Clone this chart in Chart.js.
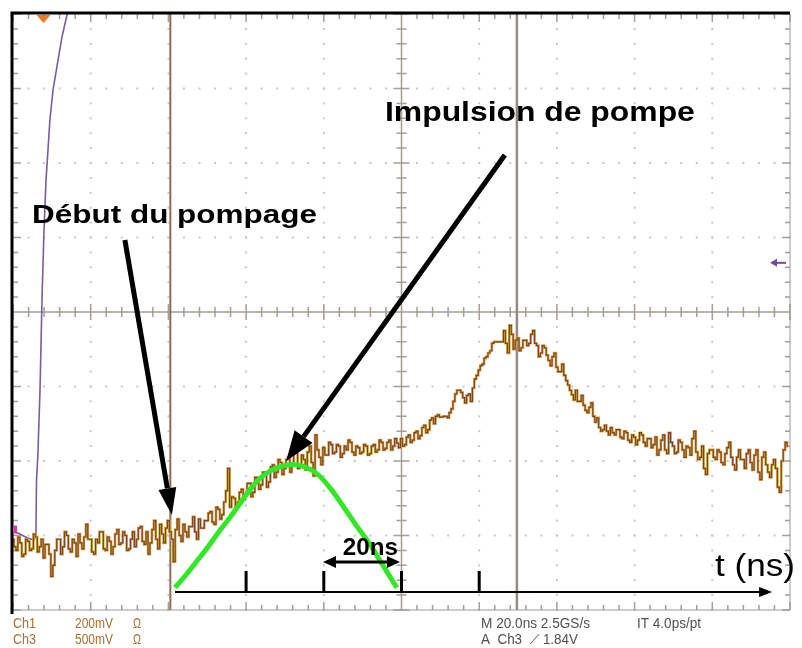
<!DOCTYPE html>
<html lang="fr">
<head>
<meta charset="utf-8">
<title>Impulsion de pompe</title>
<script src="https://cdn.jsdelivr.net/npm/chart.js@4.4.1/dist/chart.umd.min.js"></script>
<style>
  html, body { margin: 0; padding: 0; background: #fff; }
  #scope { display: block; }
</style>
</head>
<body>
<canvas id="scope" width="802" height="648"></canvas>
<script>
// Ch1 (200 mV/div) : one sample every 0.5 ns, level in vertical divisions
const SAMPLE_NS = 0.5;
const ch1Levels = [
    -3.05, -3.15, -3.20, -3.02, -3.10, -3.28, -3.25, -3.05, -3.08, -3.20, -3.18, -2.98, -3.02, -3.22, -3.15, -3.05, -3.30, -3.12, -3.12, -3.25,
    -3.55, -3.40, -3.20, -3.05, -3.05, -3.25, -3.15, -2.95, -3.00, -3.18, -3.22, -3.05, -3.10, -3.28, -2.98, -3.10, -3.18, -3.02, -2.85, -3.05,
    -3.05, -3.22, -3.25, -3.05, -3.10, -2.95, -2.95, -3.18, -3.20, -3.02, -3.08, -3.25, -3.15, -2.98, -2.92, -3.12, -3.10, -2.95, -3.00, -3.20,
    -3.18, -3.05, -2.95, -3.15, -3.05, -2.90, -2.88, -3.08, -3.12, -2.95, -3.25, -3.10, -2.92, -2.80, -3.05, -3.18, -2.85, -2.98, -3.10, -2.90,
    -2.80, -2.95, -3.05, -3.35, -2.92, -2.78, -3.00, -3.08, -2.85, -2.95, -3.02, -2.88, -2.88, -2.75, -2.95, -3.05, -2.78, -2.90, -2.90, -2.80,
    -2.80, -2.70, -2.68, -2.82, -2.85, -2.62, -2.65, -2.78, -2.72, -2.55, -2.40, -2.10, -2.62, -2.48, -2.50, -2.62, -2.55, -2.42, -2.38, -2.52,
    -2.45, -2.30, -2.30, -2.48, -2.42, -2.22, -2.25, -2.38, -2.32, -2.15, -2.18, -2.35, -2.28, -2.08, -2.05, -2.22, -2.15, -1.98, -2.02, -2.18,
    -2.10, -1.98, -1.95, -2.15, -2.05, -1.88, -1.90, -2.10, -2.08, -1.92, -1.98, -2.12, -1.88, -1.80, -2.02, -2.20, -1.65, -1.85, -1.95, -2.05,
    -1.82, -1.92, -1.92, -1.75, -1.78, -1.90, -1.88, -1.78, -1.80, -1.95, -1.90, -1.80, -1.85, -1.72, -1.75, -1.88, -1.92, -1.80, -1.82, -1.90,
    -1.88, -1.78, -1.80, -1.92, -1.90, -1.80, -1.78, -1.88, -1.85, -1.72, -1.75, -1.85, -1.83, -1.75, -1.72, -1.85, -1.80, -1.70, -1.76, -1.82,
    -1.70, -1.80, -1.78, -1.68, -1.65, -1.75, -1.72, -1.62, -1.60, -1.70, -1.66, -1.55, -1.52, -1.62, -1.58, -1.45, -1.42, -1.50, -1.40, -1.38,
    -1.41, -1.41, -1.40, -1.40, -1.42, -1.35, -1.30, -1.20, -1.10, -1.05, -1.05, -1.08, -1.15, -1.22, -1.12, -1.10, -1.20, -1.02, -0.90, -0.85,
    -0.78, -0.72, -0.70, -0.62, -0.60, -0.55, -0.52, -0.42, -0.40, -0.40, -0.40, -0.40, -0.40, -0.25, -0.42, -0.55, -0.18, -0.30, -0.50, -0.38,
    -0.35, -0.52, -0.48, -0.38, -0.38, -0.45, -0.42, -0.30, -0.25, -0.42, -0.45, -0.60, -0.55, -0.45, -0.48, -0.58, -0.65, -0.72, -0.60, -0.55,
    -0.74, -0.80, -0.80, -0.70, -0.85, -0.92, -0.98, -1.05, -1.11, -1.18, -1.05, -1.20, -1.20, -1.12, -1.25, -1.32, -1.35, -1.28, -1.22, -1.40,
    -1.48, -1.42, -1.55, -1.60, -1.58, -1.52, -1.60, -1.65, -1.55, -1.62, -1.65, -1.58, -1.58, -1.68, -1.70, -1.60, -1.62, -1.72, -1.75, -1.65,
    -1.68, -1.78, -1.72, -1.62, -1.65, -1.75, -1.80, -1.70, -1.70, -1.82, -1.78, -1.68, -1.92, -1.85, -1.72, -1.65, -1.85, -1.90, -1.62, -1.75,
    -1.80, -1.90, -1.88, -1.72, -1.75, -1.85, -1.95, -1.80, -1.82, -1.92, -1.70, -1.60, -1.88, -1.98, -1.95, -1.80, -2.10, -2.18, -1.90, -1.85,
    -1.85, -1.95, -1.98, -1.85, -1.88, -2.02, -2.05, -1.90, -1.82, -1.75, -1.95, -2.05, -2.12, -1.95, -1.85, -1.98, -1.98, -2.10, -1.90, -1.85,
    -2.02, -2.12, -1.92, -1.85, -2.15, -2.25, -1.95, -1.88, -2.05, -2.15, -2.22, -2.05, -1.98, -2.10, -2.35, -2.42, -2.00, -1.85, -1.75, -1.80
];

// Ch3 (500 mV/div) : trigger edge
const ch3Times  = [0, 1.8, 3.6, 5.4, 5.9, 6.05, 6.4, 6.95, 7.46, 7.98, 8.5, 9.0, 9.5, 10.3, 11.3, 12.6, 13.9, 14.4];
const ch3Levels = [-2.94, -2.98, -3.03, -3.06, -3.01, -2.26, -1.92, -1.05, 0.16, 1.10, 1.77, 2.17, 2.58, 2.98, 3.29, 3.69, 3.99, 4.08];

// Pump pulse drawn under the trace
const pulseTimes  = [41.7, 44.5, 47.4, 50.2, 53.0, 55.8, 58.7, 61.5, 64.3, 67.4, 71.3, 74.6, 78.2, 81.6, 84.9, 88.3, 91.9, 94.5, 97.0, 98.8];
const pulseLevels = [-3.70, -3.53, -3.34, -3.15, -2.95, -2.76, -2.55, -2.35, -2.20, -2.10, -2.05, -2.07, -2.17, -2.36, -2.60, -2.86, -3.12, -3.34, -3.55, -3.70];

// Time arrow ticks (ns)
const timeTicks = [60, 80, 100, 120];

// Cursors (ns)
const cursorTimes = [40.5, 129.7];

const toPoints = (xs, ys) => xs.map((x, i) => ({ x: x, y: ys[i] }));
const ch1Points = ch1Levels.map((y, i) => ({ x: i * SAMPLE_NS, y: y }));

function drawFitted(ctx, text, x, y, width, font, color) {
    ctx.save();
    ctx.font = font;
    const w = ctx.measureText(text).width;
    ctx.translate(x, y);
    ctx.scale(width / w, 1);
    ctx.fillStyle = color;
    ctx.textBaseline = 'alphabetic';
    ctx.fillText(text, 0, 0);
    ctx.restore();
}

function arrowHead(ctx, x0, y0, x1, y1, len, half) {
    const ang = Math.atan2(y1 - y0, x1 - x0);
    const bx = x1 - len * Math.cos(ang), by = y1 - len * Math.sin(ang);
    ctx.beginPath();
    ctx.moveTo(x1, y1);
    ctx.lineTo(bx + half * Math.sin(ang), by - half * Math.cos(ang));
    ctx.lineTo(bx - half * Math.sin(ang), by + half * Math.cos(ang));
    ctx.closePath();
    ctx.fill();
    return [bx, by];
}

function drawArrow(ctx, x0, y0, x1, y1, width, len, half) {
    ctx.save();
    ctx.strokeStyle = '#000';
    ctx.fillStyle = '#000';
    ctx.lineWidth = width;
    const [bx, by] = arrowHead(ctx, x0, y0, x1, y1, len, half);
    ctx.beginPath();
    ctx.moveTo(x0, y0);
    ctx.lineTo(bx, by);
    ctx.stroke();
    ctx.restore();
}

// Scope graticule: dotted divisions, centre cross, edge ticks, cursors
const graticule = {
    id: 'graticule',
    beforeDatasetsDraw(chart) {
        const { ctx, chartArea: a, scales: { x, y } } = chart;
        ctx.save();

        // dotted division lines
        ctx.fillStyle = '#c6c6c6';
        for (let t = 20; t < 200; t += 20) {
            if (t === 100) continue;
            const px = x.getPixelForValue(t);
            for (let v = -4; v <= 4.001; v += 0.2) {
                ctx.fillRect(px - 1, y.getPixelForValue(v) - 1, 2, 2);
            }
        }
        for (let d = -3; d <= 3; d++) {
            if (d === 0) continue;
            const py = y.getPixelForValue(d);
            for (let t = 0; t <= 200; t += 4) {
                ctx.fillRect(x.getPixelForValue(t) - 1, py - 1, 2, 2);
            }
        }

        // centre cross
        const cx = x.getPixelForValue(100), cy = y.getPixelForValue(0);
        ctx.strokeStyle = '#a59d96';
        ctx.lineWidth = 1.5;
        ctx.beginPath();
        ctx.moveTo(a.left, cy); ctx.lineTo(a.right, cy);
        ctx.moveTo(cx, a.top); ctx.lineTo(cx, a.bottom);
        for (let t = 0; t <= 200; t += 4) {
            const px = x.getPixelForValue(t), h = t % 20 === 0 ? 8 : 5;
            ctx.moveTo(px, cy - h); ctx.lineTo(px, cy + h);
            ctx.moveTo(px, a.bottom); ctx.lineTo(px, a.bottom - h);
            ctx.moveTo(px, a.top); ctx.lineTo(px, a.top + h);
        }
        for (let i = -20; i <= 20; i++) {
            const py = y.getPixelForValue(i / 5), h = i % 5 === 0 ? 8 : 5;
            ctx.moveTo(cx - h, py); ctx.lineTo(cx + h, py);
            ctx.moveTo(a.left, py); ctx.lineTo(a.left + h, py);
            ctx.moveTo(a.right, py); ctx.lineTo(a.right - h, py);
        }
        ctx.stroke();

        // cursors
        ctx.lineWidth = 2;
        ctx.strokeStyle = '#8c6e52';
        ctx.beginPath();
        ctx.moveTo(x.getPixelForValue(cursorTimes[0]), a.top);
        ctx.lineTo(x.getPixelForValue(cursorTimes[0]), a.bottom);
        ctx.stroke();
        ctx.strokeStyle = '#928a84';
        ctx.lineWidth = 2.5;
        ctx.beginPath();
        ctx.moveTo(x.getPixelForValue(cursorTimes[1]), a.top);
        ctx.lineTo(x.getPixelForValue(cursorTimes[1]), a.bottom);
        ctx.stroke();
        ctx.restore();
    }
};

// Frame, markers, arrows and labels
const annotations = {
    id: 'annotations',
    afterDatasetsDraw(chart) {
        const { ctx, chartArea: a, scales: { x, y } } = chart;
        const X = t => x.getPixelForValue(t);
        const Y = v => y.getPixelForValue(v);
        ctx.save();

        // frame
        ctx.strokeStyle = '#9a9a9a';
        ctx.lineWidth = 1;
        ctx.beginPath();
        ctx.moveTo(a.right, a.top); ctx.lineTo(a.right, a.bottom);
        ctx.moveTo(a.left, a.bottom); ctx.lineTo(a.right, a.bottom);
        ctx.stroke();
        ctx.strokeStyle = '#000';
        ctx.lineWidth = 3;
        ctx.beginPath();
        ctx.moveTo(a.left - 1, a.bottom + 4); ctx.lineTo(a.left - 1, a.top - 1); ctx.lineTo(a.right, a.top - 1);
        ctx.stroke();

        // trigger position and level markers
        ctx.fillStyle = '#f07a1e';
        ctx.beginPath();
        ctx.moveTo(X(7.85) - 7, a.top + 1); ctx.lineTo(X(7.85) + 7, a.top + 1); ctx.lineTo(X(7.85), a.top + 9);
        ctx.closePath(); ctx.fill();
        ctx.fillStyle = '#d040a8';
        ctx.fillRect(a.left, Y(-2.92) - 4, 4, 8);
        ctx.strokeStyle = '#7a4a8c';
        ctx.fillStyle = '#7a4a8c';
        ctx.lineWidth = 2;
        ctx.beginPath();
        ctx.moveTo(a.right - 4, Y(0.66)); ctx.lineTo(a.right - 14, Y(0.66));
        ctx.stroke();
        arrowHead(ctx, a.right - 10, Y(0.66), a.right - 20, Y(0.66), 7, 4);

        // time arrow with ticks
        ctx.strokeStyle = '#000';
        ctx.fillStyle = '#000';
        ctx.lineWidth = 2;
        ctx.beginPath();
        ctx.moveTo(X(41.7), Y(-3.758)); ctx.lineTo(X(193), Y(-3.758));
        ctx.stroke();
        arrowHead(ctx, X(190), Y(-3.758), X(195.4), Y(-3.758), 13, 5);
        ctx.lineWidth = 3;
        ctx.beginPath();
        timeTicks.forEach(t => { ctx.moveTo(X(t), Y(-3.758)); ctx.lineTo(X(t), Y(-3.477)); });
        ctx.stroke();

        // 20 ns span
        ctx.lineWidth = 3;
        ctx.beginPath();
        ctx.moveTo(X(82), Y(-3.356)); ctx.lineTo(X(97.4), Y(-3.356));
        ctx.stroke();
        arrowHead(ctx, X(90), Y(-3.356), X(79.8), Y(-3.356), 13, 6);
        arrowHead(ctx, X(90), Y(-3.356), X(99.6), Y(-3.356), 13, 6);
        drawFitted(ctx, '20ns', X(84.9), Y(-3.262), X(99.1) - X(84.9), 'bold 24px "Liberation Sans", Arial, sans-serif', '#000');

        // labelled arrows
        drawArrow(ctx, X(28.8), Y(0.966), X(40.9), Y(-2.725), 5, 27, 9);
        drawArrow(ctx, X(126.6), Y(2.107), X(70.3), Y(-2.0), 5, 30, 11);
        drawFitted(ctx, 'Début du pompage', X(4.9), Y(1.195), X(78.25) - X(4.9), 'bold 26px "Liberation Sans", Arial, sans-serif', '#000');
        drawFitted(ctx, 'Impulsion de pompe', X(95.75), Y(2.564), X(175.5) - X(95.75), 'bold 27px "Liberation Sans", Arial, sans-serif', '#000');
        drawFitted(ctx, 't (ns)', X(180.7), Y(-3.544), X(201.3) - X(180.7), '32px "Liberation Sans", Arial, sans-serif', '#000');
        ctx.restore();
    },
    afterDraw(chart) {
        const { ctx, chartArea: a } = chart;
        const f = '14px "Liberation Sans", Arial, sans-serif';
        const r1 = a.bottom + 18, r2 = a.bottom + 34;
        drawFitted(ctx, 'Ch1', a.left, r1, 23, f, '#a8702e');
        drawFitted(ctx, '200mV', a.left + 62, r1, 38, f, '#a8702e');
        drawFitted(ctx, 'Ω', a.left + 120, r1, 8, f, '#a8702e');
        drawFitted(ctx, 'Ch3', a.left, r2, 23, f, '#a8702e');
        drawFitted(ctx, '500mV', a.left + 62, r2, 38, f, '#a8702e');
        drawFitted(ctx, 'Ω', a.left + 120, r2, 8, f, '#a8702e');
        drawFitted(ctx, 'M 20.0ns 2.5GS/s', a.left + 468, r1, 109, f, '#505050');
        drawFitted(ctx, 'IT 4.0ps/pt', a.left + 624, r1, 64, f, '#505050');
        drawFitted(ctx, 'A  Ch3  ⟋ 1.84V', a.left + 468, r2, 97, f, '#505050');
    }
};

new Chart(document.getElementById('scope'), {
    type: 'line',
    data: {
        datasets: [
            { data: toPoints(pulseTimes, pulseLevels), borderColor: '#33e626', borderWidth: 5, pointRadius: 0, tension: 0.3 },
            { data: ch1Points, borderColor: '#7a4616', borderWidth: 1.2, pointRadius: 0, stepped: 'middle' },
            { data: ch1Points, borderColor: '#d9a55a', borderWidth: 2.6, pointRadius: 0, stepped: 'middle' },
            { data: toPoints(ch3Times, ch3Levels), borderColor: '#7d5c9c', borderWidth: 1.6, pointRadius: 0 }
        ]
    },
    options: {
        responsive: false,
        animation: false,
        events: [],
        layout: { padding: { left: 13, right: 12, top: 14, bottom: 38 } },
        plugins: { legend: { display: false }, tooltip: { enabled: false } },
        scales: {
            x: { type: 'linear', min: 0, max: 200, display: false },
            y: { min: -4, max: 4, display: false }
        }
    },
    plugins: [graticule, annotations]
});
</script>
</body>
</html>
